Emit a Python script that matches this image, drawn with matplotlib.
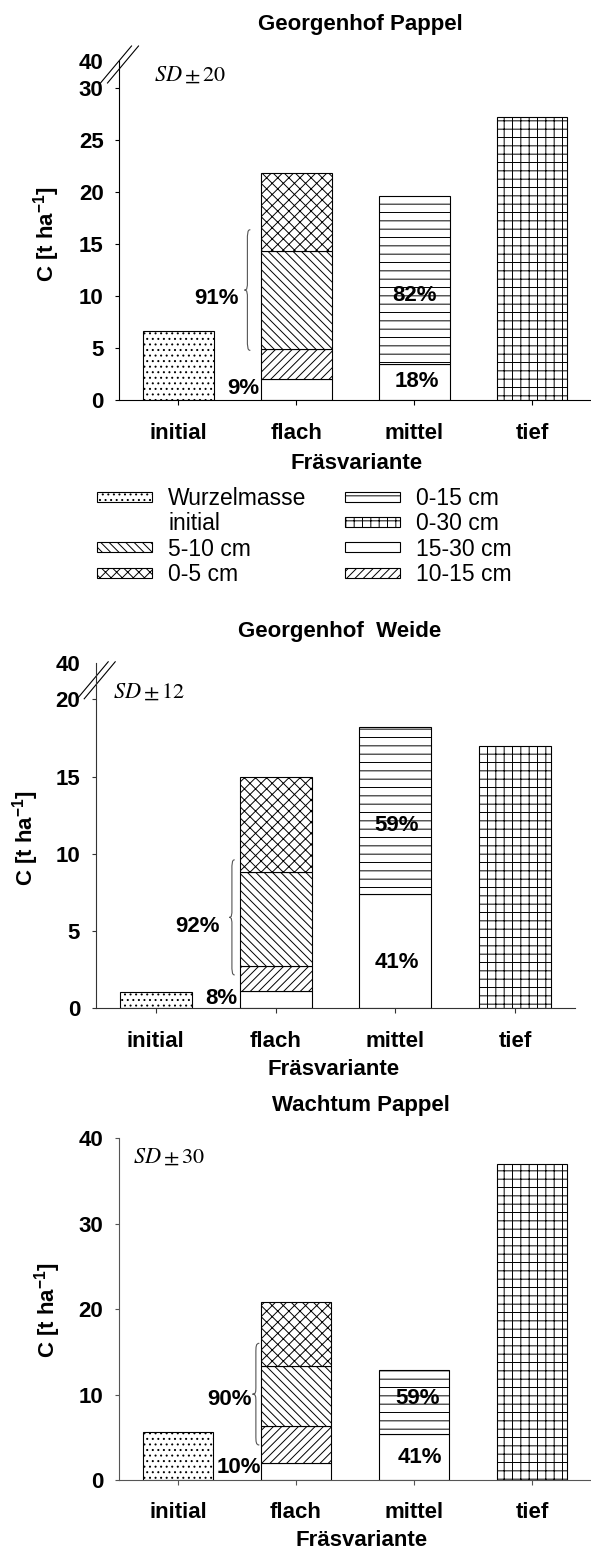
import numpy as np
import matplotlib
matplotlib.use('Agg')
import matplotlib.pyplot as plt
import matplotlib.patches as mpatches
from matplotlib.path import Path

plt.rcParams['font.family'] = ['Liberation Sans', 'DejaVu Sans']
plt.rcParams['hatch.linewidth'] = 0.7
plt.rcParams['mathtext.fontset'] = 'custom'
plt.rcParams['mathtext.bf'] = 'Liberation Sans:bold'
plt.rcParams['mathtext.rm'] = 'Liberation Sans:bold'

cats = ['initial', 'flach', 'mittel', 'tief']

# Georgenhof Pappel  (segment values, t/ha, bottom -> top)
gp_wurzel = [6.7, 0, 0, 0]
gp_15_30 = [0, 2.05, 3.5, 0]
gp_10_15 = [0, 2.9, 0, 0]
gp_5_10 = [0, 9.4, 0, 0]
gp_0_5 = [0, 7.55, 0, 0]
gp_0_15 = [0, 0, 16.15, 0]
gp_0_30 = [0, 0, 0, 27.2]

# Georgenhof Weide
gw_wurzel = [1.07, 0, 0, 0]
gw_15_30 = [0, 1.12, 7.4, 0]
gw_10_15 = [0, 1.62, 0, 0]
gw_5_10 = [0, 6.1, 0, 0]
gw_0_5 = [0, 6.15, 0, 0]
gw_0_15 = [0, 0, 10.83, 0]
gw_0_30 = [0, 0, 0, 16.98]

# Wachtum Pappel
wp_wurzel = [5.65, 0, 0, 0]
wp_15_30 = [0, 2.03, 5.35, 0]
wp_10_15 = [0, 4.29, 0, 0]
wp_5_10 = [0, 7.06, 0, 0]
wp_0_5 = [0, 7.5, 0, 0]
wp_0_15 = [0, 0, 7.53, 0]
wp_0_30 = [0, 0, 0, 36.97]

layer_names = ['wurzel', '15_30', '10_15', '5_10', '0_5', '0_15', '0_30']
hatches = {'wurzel': '...', '15_30': '', '10_15': '////', '5_10': '\\\\\\\\',
           '0_5': 'xxx', '0_15': '--', '0_30': '++'}

W, H = 591, 1553
fig = plt.figure(figsize=(W / 100, H / 100), dpi=100)

# axes boxes in pixels: left, top, right, bottom
boxes = [(119.5, 60.7, 591, 400.3), (96, 663.3, 575, 1008.3), (119, 1138.3, 591, 1480)]

panels = [
    dict(title='Georgenhof Pappel', data=[gp_wurzel, gp_15_30, gp_10_15, gp_5_10, gp_0_5, gp_0_15, gp_0_30],
         ymax=32.65, yticks=[0, 5, 10, 15, 20, 25, 30], top_label='40', sd='$SD\\pm20$',
         sd_xy=(153.8, 75), title_x=0.51, title_pad=22, xl=(0.503, -0.1855), yl=(-0.1548, 0.491),
         pcts=[('91%', 0.319, 9.8), ('9%', 0.551, 1.18), ('82%', 2.0, 10.1), ('18%', 2.02, 1.8)],
         brace=(0.56, 0.61, 4.8, 16.4), brk=(119.5, 64.5), spine='black'),
    dict(title='Georgenhof  Weide', data=[gw_wurzel, gw_15_30, gw_10_15, gw_5_10, gw_0_5, gw_0_15, gw_0_30],
         ymax=22.33, yticks=[0, 5, 10, 15, 20], top_label='40', sd='$SD\\pm\\mathit{12}$',
         sd_xy=(113, 692.3), title_x=0.509, title_pad=19, xl=(0.496, -0.1788), yl=(-0.1474, 0.4936),
         pcts=[('92%', 0.349, 5.28), ('8%', 0.543, 0.65), ('59%', 2.01, 11.86), ('41%', 2.01, 2.95)],
         brace=(0.612, 0.658, 2.16, 9.61), brk=(96.2, 680.3), spine='#333333'),
    dict(title='Wachtum Pappel', data=[wp_wurzel, wp_15_30, wp_10_15, wp_5_10, wp_0_5, wp_0_15, wp_0_30],
         ymax=40, yticks=[0, 10, 20, 30, 40], top_label=None, sd='$SD\\pm30$',
         sd_xy=(132.7, 1157.3), title_x=0.513, title_pad=20, xl=(0.514, -0.1756), yl=(-0.1504, 0.4975),
         pcts=[('90%', 0.436, 9.37), ('10%', 0.515, 1.49), ('59%', 2.03, 9.57), ('41%', 2.05, 2.61)],
         brace=(0.631, 0.689, 4.1, 16.0), brk=None, spine='#555555'),
]


def draw_brace(ax, x_tip, x_end, y0, y1):
    ym = (y0 + y1) / 2
    xm = (x_tip + x_end) / 2
    L = y1 - y0
    verts = [(x_end, y1), (xm, y1), (xm, y1 - 0.03 * L), (xm, y1 - 0.1 * L),
             (xm, ym + 0.08 * L),
             (xm, ym + 0.02 * L), (xm, ym), (x_tip, ym),
             (xm, ym), (xm, ym - 0.02 * L), (xm, ym - 0.08 * L),
             (xm, y0 + 0.1 * L),
             (xm, y0 + 0.03 * L), (xm, y0), (x_end, y0)]
    codes = [Path.MOVETO, Path.CURVE4, Path.CURVE4, Path.CURVE4, Path.LINETO,
             Path.CURVE4, Path.CURVE4, Path.CURVE4,
             Path.CURVE4, Path.CURVE4, Path.CURVE4, Path.LINETO,
             Path.CURVE4, Path.CURVE4, Path.CURVE4]
    ax.add_patch(mpatches.PathPatch(Path(verts, codes), facecolor='none',
                                    edgecolor='#555555', lw=0.8, clip_on=False))


x = np.arange(len(cats))
for box, p in zip(boxes, panels):
    l, t, r, b = box
    ax = fig.add_axes([l / W, 1 - b / H, (r - l) / W, (b - t) / H])
    wpx, hpx = r - l, b - t

    bottom = np.zeros(len(cats))
    for name, vals in zip(layer_names, p['data']):
        vals = np.array(vals, dtype=float)
        m = vals > 0
        ax.bar(x[m], vals[m], width=0.6, bottom=bottom[m], color='white',
               edgecolor='black', linewidth=0.8, hatch=hatches[name])
        bottom += vals

    ax.set_xlim(-0.5, 3.5)
    ax.set_ylim(0, p['ymax'])
    ax.spines['top'].set_visible(False)
    ax.spines['right'].set_visible(False)
    for s in ['left', 'bottom']:
        ax.spines[s].set_linewidth(0.8)
        ax.spines[s].set_color(p['spine'])

    ax.set_xticks(x)
    ax.set_xticklabels(cats, fontweight='bold')
    yt = list(p['yticks'])
    ylab = [str(v) for v in yt]
    if p['top_label']:
        yt.append(p['ymax'])
        ylab.append(p['top_label'])
    ax.set_yticks(yt)
    ax.set_yticklabels(ylab, fontweight='bold')
    if p['top_label']:
        ax.yaxis.get_major_ticks()[-1].tick1line.set_visible(False)
    ax.tick_params(axis='y', direction='out', length=3, width=0.8, pad=8.5, labelsize=16,
                   color=p['spine'])
    ax.tick_params(axis='x', direction='out', length=3.6, width=0.8, pad=12.5, labelsize=16,
                   color=p['spine'])

    ax.set_title(p['title'], x=p['title_x'], pad=p['title_pad'], fontsize=16, fontweight='bold')
    ax.set_xlabel('Fräsvariante', fontsize=16, fontweight='bold')
    ax.xaxis.label.set_va('center')
    ax.xaxis.set_label_coords(*p['xl'])
    ax.set_ylabel('C [t ha$^{\\mathbf{-1}}$]', fontsize=16, fontweight='bold')
    ax.yaxis.label.set_va('center')
    ax.yaxis.set_label_coords(*p['yl'])

    sx, sy = p['sd_xy']
    ax.text((sx - l) / wpx, (b - sy) / hpx, p['sd'], transform=ax.transAxes,
            ha='left', va='center', fontsize=16, math_fontfamily='stix')

    for txt, tx, ty in p['pcts']:
        ax.text(tx, ty, txt, ha='center', va='center', fontsize=16, fontweight='bold')

    draw_brace(ax, *p['brace'])

    if p['brk']:
        cx, cy = p['brk']
        for off in (-3.5, 3.5):
            xs = [cx + off - 15.5, cx + off + 15.5]
            ys = [cy + 18.5, cy - 18.5]
            ax.plot([(v - l) / wpx for v in xs], [(b - v) / hpx for v in ys],
                    transform=ax.transAxes, color='black', lw=0.8, clip_on=False)

# legend
labels = ['Wurzelmasse', 'initial', '5-10 cm', '0-5 cm', '0-15 cm', '0-30 cm', '15-30 cm', '10-15 cm']
keys = ['wurzel', None, '5_10', '0_5', '0_15', '0_30', '15_30', '10_15']
handles = []
for k in keys:
    if k is None:
        handles.append(mpatches.Patch(facecolor='none', edgecolor='none'))
    else:
        handles.append(mpatches.Patch(facecolor='white', edgecolor='black', linewidth=0.8, hatch=hatches[k]))
fig.legend(handles, labels, ncol=2, loc='upper left', bbox_to_anchor=(97 / W, 1 - 487 / H),
           frameon=False, prop={'size': 16.5}, handlelength=2.4, handleheight=0.3,
           handletextpad=0.7, columnspacing=1.7, labelspacing=0.1, borderpad=0, borderaxespad=0)

fig.savefig('out.png', dpi=100)
